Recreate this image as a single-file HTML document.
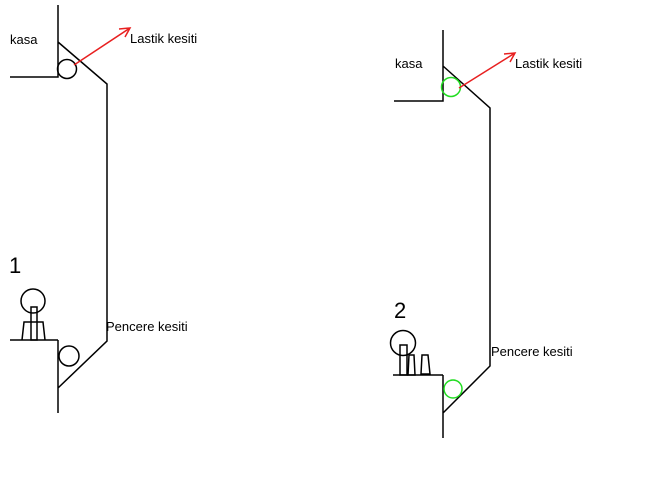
<!DOCTYPE html>
<html><head><style>body{margin:0;background:#fff}svg{display:block}text{font-family:"Liberation Sans",sans-serif;font-size:13px;fill:#000}</style></head>
<body><svg width="653" height="490" viewBox="0 0 653 490" fill="none" stroke="#000" stroke-width="1.5">
<!-- diagram 1 -->
<path d="M58 5V77H10M58 42L107 84V341L58 388M58 340V413M10 340H58"/>
<circle cx="67" cy="69" r="9.5"/>
<circle cx="69" cy="356" r="10"/>
<circle cx="33" cy="301" r="12"/>
<rect x="31" y="307" width="6" height="33"/>
<path d="M22 340L24 322H43L45 340"/>
<path d="M74 65L130 28M119 29L130 28L125 37" stroke="#e82020"/>
<text x="10" y="44" stroke="none">kasa</text>
<text x="130" y="43" stroke="none">Lastik kesiti</text>
<text x="9" y="273" stroke="none" style="font-size:22px">1</text>
<text x="106" y="331" stroke="none">Pencere kesiti</text>
<!-- diagram 2 -->
<path d="M443 30V101H394M443 66L490 108V366L443 413M443 375V438M393 375H443"/>
<circle cx="451" cy="87" r="9.5" stroke="#22dd22"/>
<circle cx="453" cy="389" r="9" stroke="#22dd22"/>
<circle cx="403" cy="343" r="12.5"/>
<rect x="400" y="345" width="7" height="30"/>
<path d="M408 375L409 355H414L415 375Z"/>
<path d="M421 374L422 355H428L430 374Z"/>
<path d="M459 88L515 53M504 54L515 53L510 62" stroke="#e82020"/>
<text x="395" y="68" stroke="none">kasa</text>
<text x="515" y="68" stroke="none">Lastik kesiti</text>
<text x="394" y="318" stroke="none" style="font-size:22px">2</text>
<text x="491" y="356" stroke="none">Pencere kesiti</text>
</svg></body></html>
